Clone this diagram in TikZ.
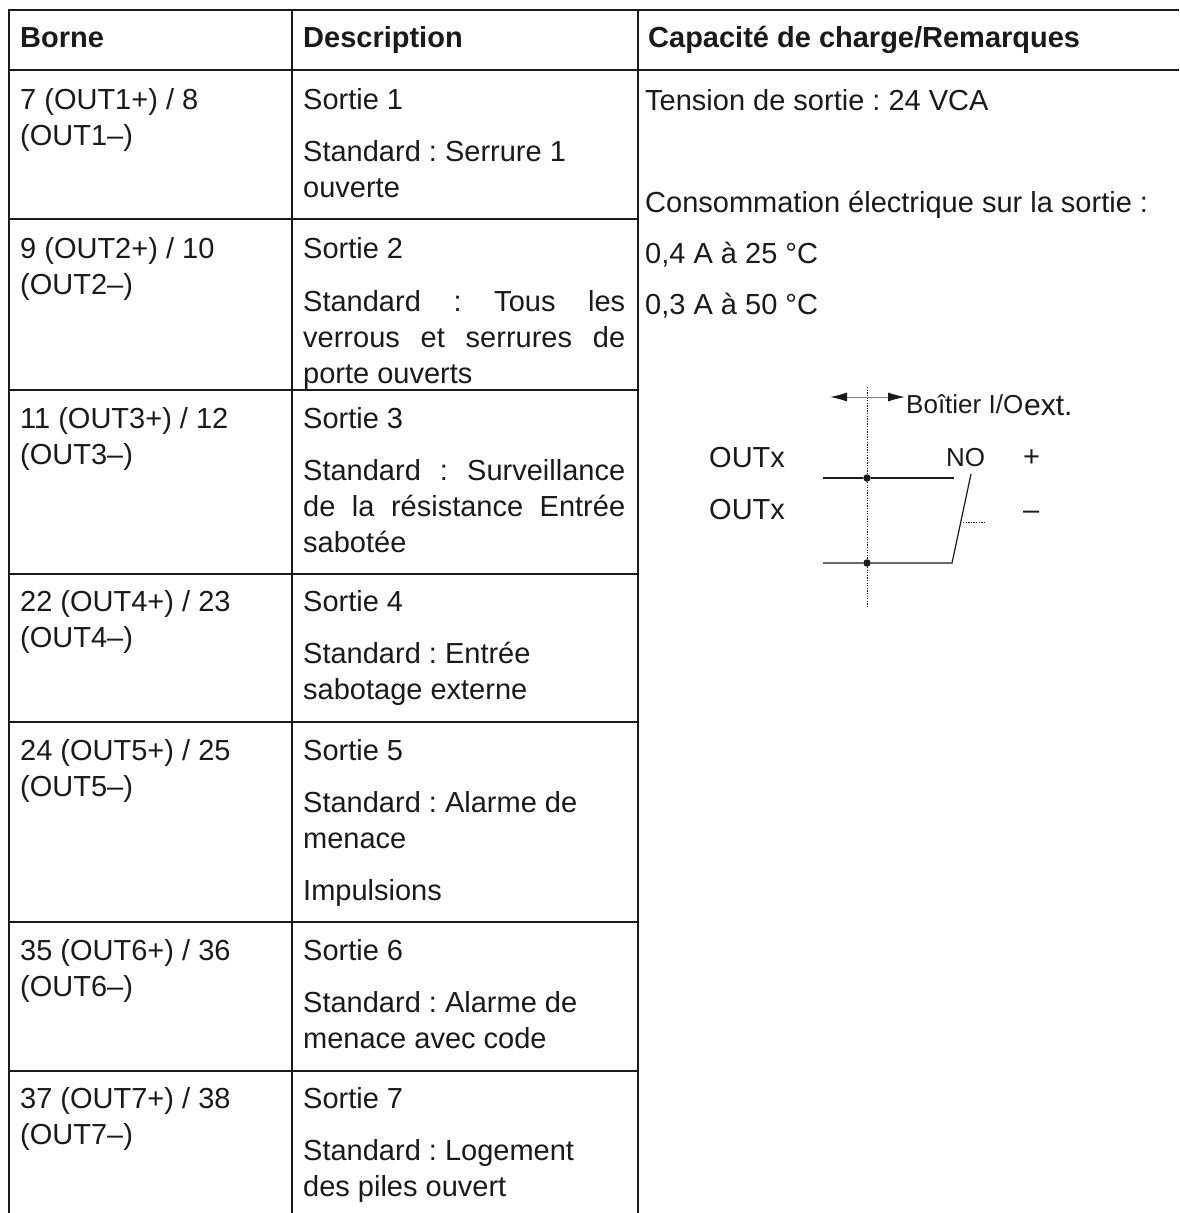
\documentclass[tikz,border=0pt]{standalone}
\usepackage{fontspec}
\setmainfont{Liberation Sans}
\usetikzlibrary{arrows.meta}
\definecolor{inkblack}{HTML}{1A1A1A}
\newcommand{\bodysize}{\fontsize{29}{36}\selectfont\frenchspacing}
\newcommand{\fillline}[1]{\makebox[322pt][s]{#1}}
\newcommand{\twolines}[2]{\vtop{\hbox{#1}\hbox{#2}}}
\newcommand{\threelines}[3]{\vtop{\hbox{#1}\hbox{#2}\hbox{#3}}}
\tikzset{
    celltext/.style={anchor=base west,inner sep=0pt,text=inkblack,font=\bodysize},
    headtext/.style={anchor=base west,inner sep=0pt,text=inkblack,font=\bodysize\bfseries},
    gridline/.style={line width=2pt,inkblack},
    plaintext/.style={anchor=base west,inner sep=0pt,text=inkblack,font=\fontsize{29}{32}\selectfont},
    bigtext/.style={anchor=base west,inner sep=0pt,text=inkblack,font=\fontsize{30}{32}\selectfont},
    smalltext/.style={anchor=base west,inner sep=0pt,text=inkblack,font=\fontsize{26}{28}\selectfont},
    wire/.style={line width=1.2pt,inkblack},
    dotline/.style={line width=1pt,inkblack,dash pattern=on 1.3pt off 1.3pt},
    junction/.style={circle,fill=inkblack,inner sep=0pt,minimum size=7.5pt}
}
\begin{document}
\begin{tikzpicture}[x=1pt,y=-1pt]
    \useasboundingbox (0,0) rectangle (1179,1213);

    % grid
    \draw[gridline] (1179,10) -- (9,10) -- (9,1213);
    \draw[gridline] (292,10) -- (292,1213);
    \draw[gridline] (638,10) -- (638,1213);
    \draw[gridline] (9,70) -- (1179,70);
    \draw[gridline] (9,219) -- (638,219);
    \draw[gridline] (9,390) -- (638,390);
    \draw[gridline] (9,574) -- (638,574);
    \draw[gridline] (9,722) -- (638,722);
    \draw[gridline] (9,922) -- (638,922);
    \draw[gridline] (9,1071) -- (638,1071);

    % header
    \node[headtext] (hborne) at (20,47) {Borne};
    \node[headtext] (hdesc) at (303,47) {Description};
    \node[headtext] (hcap) at (648,47) {Capacité de charge/Remarques};

    % terminals
    \node[celltext] (born1) at (20,109) {\twolines{7 (OUT1+) / 8}{(OUT1–)}};
    \node[celltext] (born2) at (20,258) {\twolines{9 (OUT2+) / 10}{(OUT2–)}};
    \node[celltext] (born3) at (20,428) {\twolines{11 (OUT3+) / 12}{(OUT3–)}};
    \node[celltext] (born4) at (20,611) {\twolines{22 (OUT4+) / 23}{(OUT4–)}};
    \node[celltext] (born5) at (20,760) {\twolines{24 (OUT5+) / 25}{(OUT5–)}};
    \node[celltext] (born6) at (20,960) {\twolines{35 (OUT6+) / 36}{(OUT6–)}};
    \node[celltext] (born7) at (20,1108) {\twolines{37 (OUT7+) / 38}{(OUT7–)}};

    % descriptions
    \node[celltext] (out1) at (303,109) {Sortie 1};
    \node[celltext] (std1) at (303,161) {\twolines{Standard : Serrure 1}{ouverte}};
    \node[celltext] (out2) at (303,258) {Sortie 2};
    \node[celltext] (std2) at (303,311) {\threelines{\fillline{Standard : Tous les}}{\fillline{verrous et serrures de}}{porte ouverts}};
    \node[celltext] (out3) at (303,428) {Sortie 3};
    \node[celltext] (std3) at (303,480) {\threelines{\fillline{Standard : Surveillance}}{\fillline{de la résistance Entrée}}{sabotée}};
    \node[celltext] (out4) at (303,611) {Sortie 4};
    \node[celltext] (std4) at (303,663) {\twolines{Standard : Entrée}{sabotage externe}};
    \node[celltext] (out5) at (303,760) {Sortie 5};
    \node[celltext] (std5) at (303,812) {\twolines{Standard : Alarme de}{menace}};
    \node[celltext] (imp5) at (303,900) {Impulsions};
    \node[celltext] (out6) at (303,960) {Sortie 6};
    \node[celltext] (std6) at (303,1012) {\twolines{Standard : Alarme de}{menace avec code}};
    \node[celltext] (out7) at (303,1108) {Sortie 7};
    \node[celltext] (std7) at (303,1160) {\twolines{Standard : Logement}{des piles ouvert}};

    % remarks
    \node[celltext] (rem1) at (645,110) {Tension de sortie : 24 VCA};
    \node[celltext] (rem2) at (645,212) {Consommation électrique sur la sortie :};
    \node[celltext] (rem3) at (645,263) {0,4 A à 25 °C};
    \node[celltext] (rem4) at (645,314) {0,3 A à 50 °C};

    % contact sketch
    \begin{scope}
        \coordinate (septop) at (867,387);
        \coordinate (sepbot) at (867,607);
        \coordinate (arrowl) at (830,397);
        \coordinate (arrowr) at (905,397);
        \coordinate (wirea) at (823,478);
        \coordinate (wireb) at (823,563);
        \coordinate (wirec) at (954,478);
        \coordinate (pivot) at (952,563);
        \coordinate (blade) at (971,474);
        \coordinate (stubl) at (963,522);
        \coordinate (stubr) at (985,522);
        \node[junction] (dota) at (867,478) {};
        \node[junction] (dotb) at (867,563) {};
        \draw[dotline] (septop) -- (dota) -- (dotb) -- (sepbot);
        \draw[line width=0.9pt,gray,{Latex[inkblack,length=17pt,width=9pt]}-{Latex[inkblack,length=17pt,width=9pt]}] (arrowl) -- (arrowr);
        \draw[wire] (wirea) -- (dota) -- (wirec);
        \draw[wire] (wireb) -- (dotb) -- (pivot) -- (blade);
        \draw[dotline] (stubl) -- (stubr);
        \node[smalltext] (boitier) at (906,413) {Boîtier I/O};
        \node[bigtext] (extern) at (1024,415) {ext.};
        \node[plaintext] (outa) at (709,467) {OUTx};
        \node[plaintext] (outb) at (709,519) {OUTx};
        \node[smalltext] (nocont) at (946,466) {NO};
        \node[plaintext] (plus) at (1023,466) {+};
        \node[plaintext] (minus) at (1023,519) {–};
    \end{scope}
\end{tikzpicture}
\end{document}
